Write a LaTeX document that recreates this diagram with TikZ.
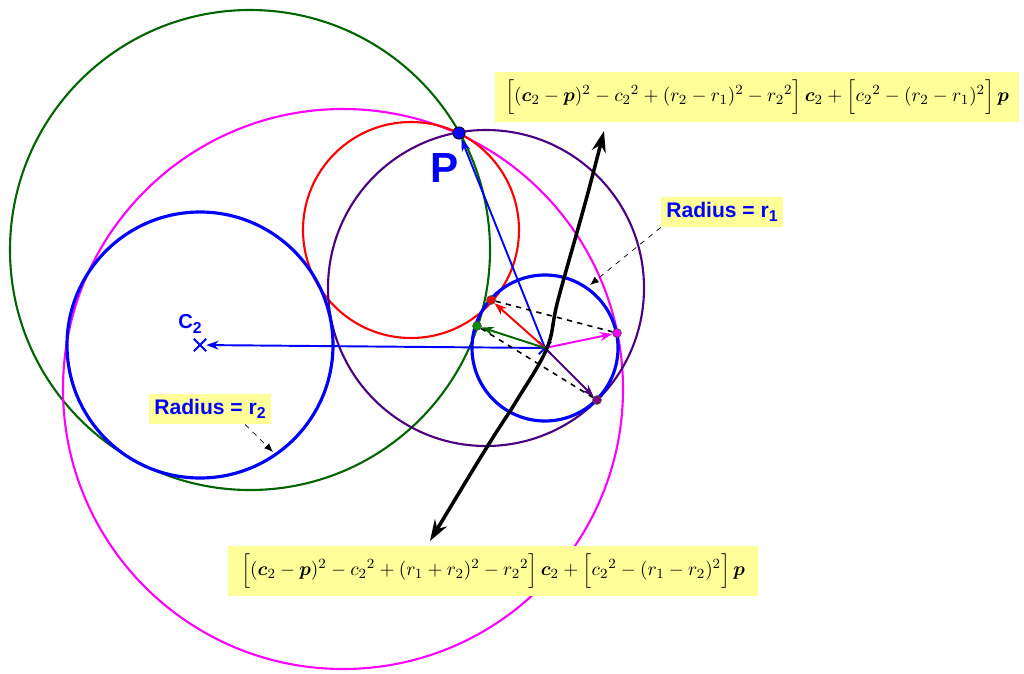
\documentclass[tikz,border=0pt]{standalone}
\usepackage{amsmath}
\usepackage{bm}
\usepackage{fontspec}
\setsansfont{Liberation Sans}
\usetikzlibrary{arrows.meta,positioning,shapes.misc}

\definecolor{noteyellow}{RGB}{255,255,153}
\definecolor{darkgreen}{RGB}{0,100,0}
\definecolor{indigo}{RGB}{75,0,130}
\definecolor{plum}{RGB}{128,0,128}
\definecolor{pinkish}{RGB}{255,0,255}

\newcommand{\lowsub}[1]{\raisebox{-0.4ex}{\fontsize{9}{10}\selectfont #1}}

\begin{document}
\begin{tikzpicture}[
                    x=0.02cm, y=-0.02cm,
                    given/.style={draw=blue, line width=1.8pt},
                    touching/.style={line width=1.2pt},
                    radvec/.style={-{Stealth[length=7pt, width=5pt]}, line width=1.1pt},
                    chord/.style={dashed, line width=0.9pt},
                    tangpt/.style={circle, draw=black!70, thin, inner sep=0pt, minimum size=5pt},
                    centre/.style={cross out, draw=blue, line width=1.1pt, minimum size=6pt, inner sep=0pt},
                    locus/.style={{Stealth[length=12pt, width=8pt]}-{Stealth[length=12pt, width=8pt]}, line width=2pt},
                    formula/.style={fill=noteyellow, inner sep=3pt, minimum height=1cm, font=\fontsize{10.9}{13}\selectfont},
                    radlabel/.style={fill=noteyellow, text=blue, inner sep=3pt, font=\sffamily\bfseries\fontsize{12}{14}\selectfont},
                    pointer/.style={-{Latex[length=5pt, width=4pt]}, dashed, thin}
                ]
                \useasboundingbox (0,0) rectangle (1024,673);

                % Circles through P touching both given circles
                \draw[touching, darkgreen] (250,250) circle (240);
                \draw[touching, pinkish] (343,389) circle (280);
                \draw[touching, red] (411,230) circle (108);
                \draw[touching, indigo] (486,288) circle (158);

                % Given circles
                \node[centre] (c2) at (200,345) {};
                \node[centre] (c1) at (545,348) {};
                \draw[given] (c2.center) circle (133);
                \draw[given] (c1.center) circle (73);

                % Points
                \node[circle, draw=black, fill=blue, inner sep=0pt, minimum size=7pt] (P) at (459,133) {};
                \node[tangpt, fill=red] (tred) at (491,300) {};
                \node[tangpt, fill=darkgreen!70!green] (tgreen) at (477,326) {};
                \node[tangpt, fill=pinkish] (tmag) at (617,333) {};
                \node[tangpt, fill=plum] (tpurp) at (597,400) {};

                % Radius vectors
                \draw[radvec, blue] (c1.center) -- (P);
                \draw[radvec, blue] (c1.center) -- (c2);
                \draw[radvec, red] (c1.center) -- (tred);
                \draw[radvec, darkgreen] (c1.center) -- (tgreen);
                \draw[radvec, pinkish] (c1.center) -- (tmag);
                \draw[radvec, indigo] (c1.center) -- (tpurp);
                \draw[chord] (tred) -- (tmag);
                \draw[chord] (tgreen) -- (tpurp);

                % Locus of centres
                \draw[locus] plot[smooth, tension=0.6] coordinates {(430,541) (487,447) (517,400) (547,348) (558,300) (586,200) (604,131)};

                % Labels
                \node[text=blue, font=\sffamily\bfseries\fontsize{24}{28}\selectfont] (Plab) at (445,168) {P};
                \node[text=blue, font=\sffamily\bfseries\fontsize{11.5}{13}\selectfont] (c2lab) at (190,324) {C\lowsub{2}};
                \node[radlabel] (r1lab) at (722,212) {Radius = r\lowsub{1}};
                \node[radlabel] (r2lab) at (210,409) {Radius = r\lowsub{2}};
                \coordinate (r1end) at (590,285);
                \coordinate (r2end) at (273,452);
                \draw[pointer] (r1lab.south west) -- (r1end);
                \draw[pointer] ([xshift=20pt]r2lab.south) -- (r2end);

                % Formulas
                \node[formula, minimum width=10.5cm] (topeq) at (757,97) {$\Big[(\bm{c}_2-\bm{p})^2-{c_2}^2+(r_2-r_1)^2-{r_2}^2\Big]\,\bm{c}_2+\Big[{c_2}^2-(r_2-r_1)^2\Big]\,\bm{p}$};
                \node[formula, minimum width=10.6cm] (boteq) at (493,571) {$\Big[(\bm{c}_2-\bm{p})^2-{c_2}^2+(r_1+r_2)^2-{r_2}^2\Big]\,\bm{c}_2+\Big[{c_2}^2-(r_1-r_2)^2\Big]\,\bm{p}$};
            \end{tikzpicture}
\end{document}
